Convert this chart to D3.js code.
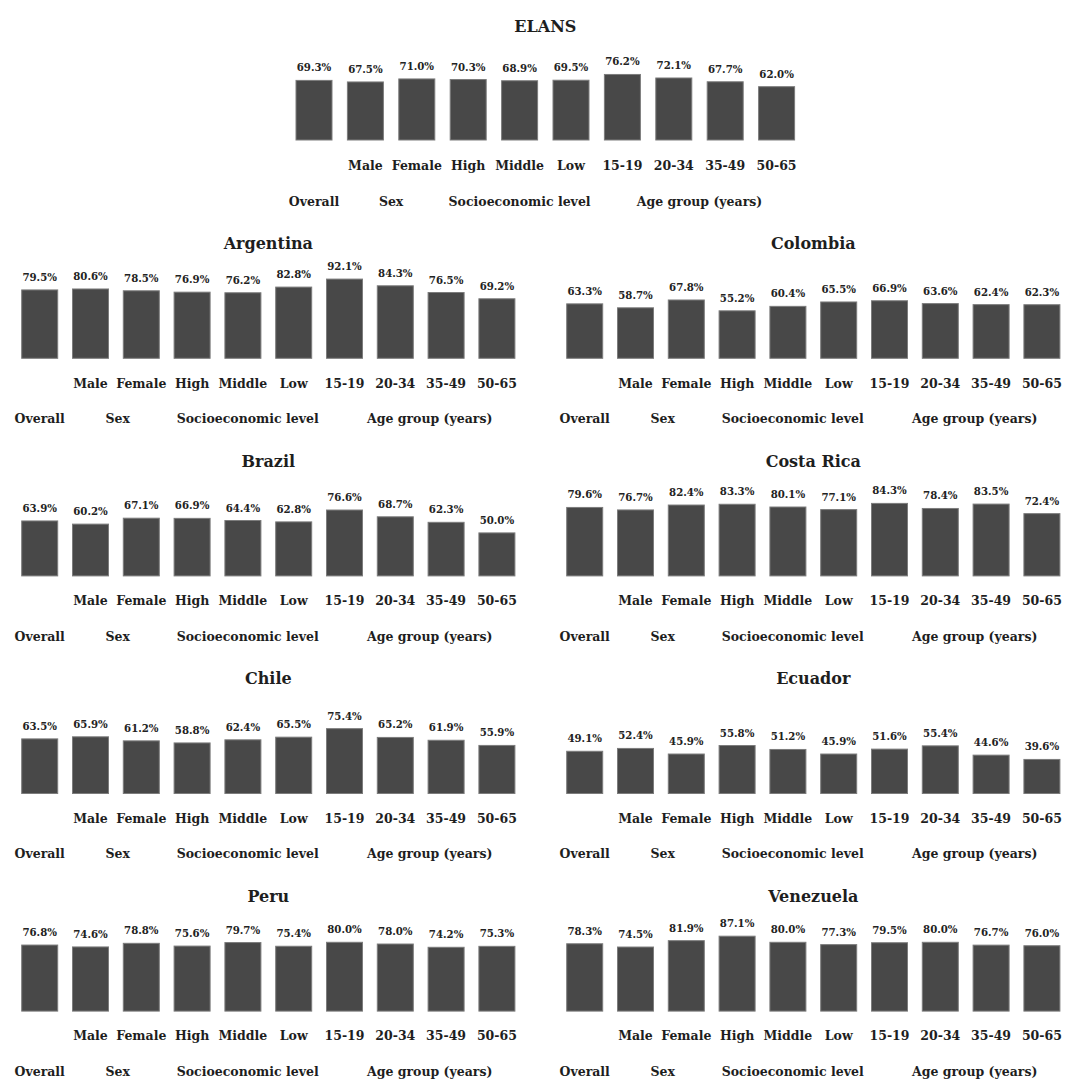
<!DOCTYPE html>
<html>
<head>
<meta charset="utf-8">
<script src="https://cdn.jsdelivr.net/npm/d3@7"></script>
<style>
  html, body { margin: 0; padding: 0; background: #ffffff; }
  svg text { font-family: "DejaVu Serif", "Liberation Serif", serif; font-weight: bold; fill: #1e1e1e; }
</style>
</head>
<body>
<svg id="chart" width="1070" height="1080"></svg>
<script>
// ---- data ----
const categories = ["Overall", "Male", "Female", "High", "Middle", "Low", "15-19", "20-34", "35-49", "50-65"];
const categoryLabels = ["", "Male", "Female", "High", "Middle", "Low", "15-19", "20-34", "35-49", "50-65"];
const groupLabels = ["Overall", "Sex", "Socioeconomic level", "Age group (years)"];
const groupCenters = [0, 1.5, 4, 7.5]; // in category-index units
const panelNames = ["ELANS", "Argentina", "Colombia", "Brazil", "Costa Rica", "Chile", "Ecuador", "Peru", "Venezuela"];

const elans      = [69.3, 67.5, 71.0, 70.3, 68.9, 69.5, 76.2, 72.1, 67.7, 62.0];
const argentina  = [79.5, 80.6, 78.5, 76.9, 76.2, 82.8, 92.1, 84.3, 76.5, 69.2];
const colombia   = [63.3, 58.7, 67.8, 55.2, 60.4, 65.5, 66.9, 63.6, 62.4, 62.3];
const brazil     = [63.9, 60.2, 67.1, 66.9, 64.4, 62.8, 76.6, 68.7, 62.3, 50.0];
const costaRica  = [79.6, 76.7, 82.4, 83.3, 80.1, 77.1, 84.3, 78.4, 83.5, 72.4];
const chile      = [63.5, 65.9, 61.2, 58.8, 62.4, 65.5, 75.4, 65.2, 61.9, 55.9];
const ecuador    = [49.1, 52.4, 45.9, 55.8, 51.2, 45.9, 51.6, 55.4, 44.6, 39.6];
const peru       = [76.8, 74.6, 78.8, 75.6, 79.7, 75.4, 80.0, 78.0, 74.2, 75.3];
const venezuela  = [78.3, 74.5, 81.9, 87.1, 80.0, 77.3, 79.5, 80.0, 76.7, 76.0];

const panelValues = [elans, argentina, colombia, brazil, costaRica, chile, ecuador, peru, venezuela];

// ---- layout ----
const svg = d3.select("#chart");
const barW = 36;
const pxPerPct = 0.86;

function layoutFor(i) {
  if (i === 0) return { x0: 296, pitch: 51.4, gPitch: 51.4, bottom: 140, titleDy: -114, catDy: 26, grpDy: 62, titleSize: 16 };
  const col = (i - 1) % 2, row = Math.floor((i - 1) / 2);
  const bottoms = 358.3 + row * 217.6;
  return { x0: col === 0 ? 21.7 : 566.7, pitch: 50.8, gPitch: 52, bottom: bottoms, titleDy: -115, catDy: 25, grpDy: 60.5, titleSize: 16 };
}

panelNames.forEach((name, i) => {
  const L = layoutFor(i);
  const vals = panelValues[i];
  const pad = (L.pitch - barW) / L.pitch;
  const start = L.x0 - (pad / 2) * L.pitch;
  const x = d3.scaleBand().domain(categories).range([start, start + L.pitch * categories.length])
    .paddingInner(pad).paddingOuter(pad / 2);
  const y = d3.scaleLinear().domain([0, 100]).range([L.bottom, L.bottom - 100 * pxPerPct]);
  const cx0 = x(categories[0]) + x.bandwidth() / 2;
  const xc = d => x(d) + x.bandwidth() / 2;
  const g = svg.append("g");

  // title
  const midX = (x(categories[0]) + x(categories[categories.length - 1]) + x.bandwidth()) / 2;
  g.append("text").attr("x", midX).attr("y", L.bottom + L.titleDy).attr("dy", "0.35em")
    .attr("text-anchor", "middle").style("font-size", L.titleSize + "px").text(name);

  const data = categories.map((c, k) => ({ c, v: vals[k] }));

  // bars
  g.selectAll("rect.bar").data(data).join("rect").attr("class", "bar")
    .attr("x", d => x(d.c)).attr("width", x.bandwidth())
    .attr("y", d => y(d.v)).attr("height", d => y(0) - y(d.v))
    .attr("fill", "#484848").attr("stroke", "#7c7c7c").attr("stroke-width", 1);

  // value labels
  g.selectAll("text.val").data(data).join("text").attr("class", "val")
    .attr("x", d => xc(d.c)).attr("y", d => y(d.v) - 9)
    .attr("text-anchor", "middle").style("font-size", "10.2px")
    .style("fill", "#222").text(d => d.v.toFixed(1) + "%");

  // category labels
  g.selectAll("text.cat").data(categories).join("text").attr("class", "cat")
    .attr("x", d => xc(d)).attr("y", L.bottom + L.catDy).attr("dy", "0.35em")
    .attr("text-anchor", "middle").style("font-size", "12.5px")
    .text((d, k) => categoryLabels[k]);

  // group labels
  g.selectAll("text.grp").data(groupLabels).join("text").attr("class", "grp")
    .attr("x", (d, k) => cx0 + groupCenters[k] * L.gPitch).attr("y", L.bottom + L.grpDy).attr("dy", "0.35em")
    .attr("text-anchor", "middle").style("font-size", "12.5px")
    .text(d => d);
});
</script>
</body>
</html>
